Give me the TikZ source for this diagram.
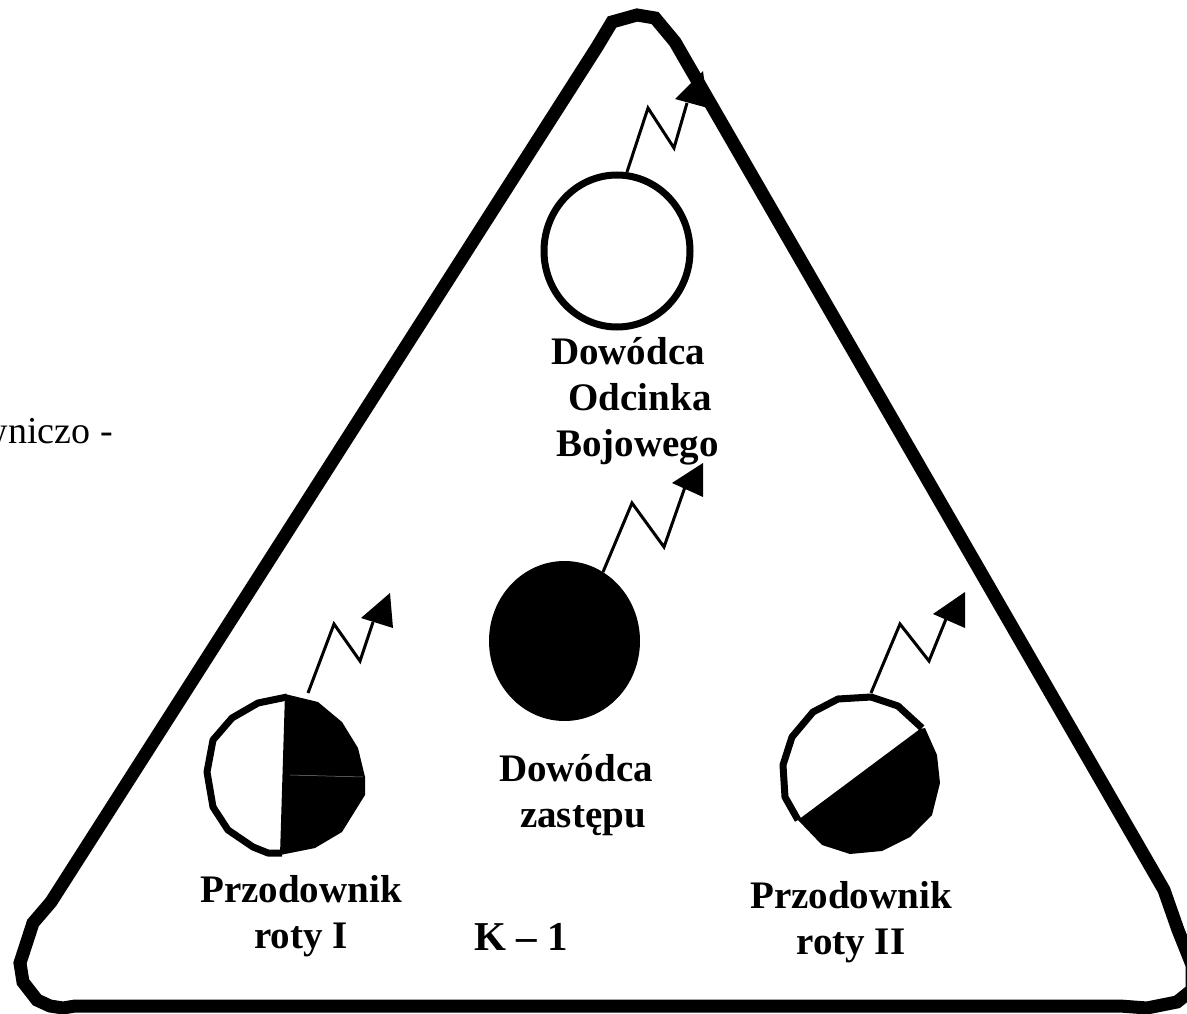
\documentclass[tikz,border=0pt]{standalone}
\usepackage{fontspec}
\usetikzlibrary{shapes.geometric}
\setmainfont{Liberation Serif}
\tikzset{
  lab/.style={font=\fontsize{39}{46}\selectfont\bfseries, align=center, inner sep=0pt, text=black},
  frame/.style={draw=black, line width=13pt, line join=miter},
  ring/.style={draw=black, line width=7pt, line join=round, fill=white},
  zig/.style={draw=black, line width=3pt, line join=miter},
  tip/.style={fill=black, draw=none},
  blk/.style={fill=black, draw=none}
}
\begin{document}
\begin{tikzpicture}[x=1pt,y=-1pt]
\useasboundingbox (0,0) rectangle (1187,1014);
\clip (0,0) rectangle (1187,1014);
% frame
\coordinate (ft) at (637,15);
\draw[frame] (ft) -- (655,18) -- (675,42) -- (1164,890) -- (1178,930) -- (1192,965) -- (1192,990) -- (1177,1002) -- (1147,1008) -- (1120,1006) -- (75,1006) -- (63,1008) -- (50,1006) -- (37,1000) -- (23,982) -- (20,963) -- (33,923) -- (51,902) -- (597,47) -- (612,22) -- cycle;
% top
\node[ellipse, draw=black, line width=7pt, fill=white, minimum width=146pt, minimum height=152pt, inner sep=0pt] (c1) at (617,251) {};
\coordinate (z1a) at (627,172); \coordinate (z1b) at (648,108); \coordinate (z1c) at (674,148); \coordinate (z1d) at (687,103);
\draw[zig] (z1a) -- (z1b) -- (z1c) -- (z1d);
\fill[tip] (675,99) -- (703,71) -- (708,108) -- cycle;
% centre
\node[ellipse, fill=black, minimum width=151pt, minimum height=160pt, inner sep=0pt] (c2) at (564.5,641) {};
\coordinate (z2a) at (603,572); \coordinate (z2b) at (632,503); \coordinate (z2c) at (664,547); \coordinate (z2d) at (685,487);
\draw[zig] (z2a) -- (z2b) -- (z2c) -- (z2d);
\fill[tip] (672,483) -- (703,463) -- (703,497) -- cycle;
% left
\draw[ring, fill=none] (287,697) -- (258,703) -- (232,718) -- (213,740) -- (207,772) -- (213,807) -- (228,830) -- (253,847) -- (268,853) -- (282,853);
\fill[blk] (285,694) -- (318,702) -- (342,722) -- (358,748) -- (365,777) -- (365,795) -- (342,832) -- (315,848) -- (280,855) -- cycle;
\draw[draw=gray, line width=0.5pt] (290,775) -- (363,777);
\coordinate (z3a) at (308,693); \coordinate (z3b) at (334,624); \coordinate (z3c) at (360,661); \coordinate (z3d) at (373,622);
\draw[zig] (z3a) -- (z3b) -- (z3c) -- (z3d);
\fill[tip] (361,618) -- (390,593) -- (393,628) -- cycle;
% right
\draw[ring, fill=none] (798,820) -- (785,797) -- (783,765) -- (792,737) -- (813,712) -- (838,699) -- (871,697) -- (898,706) -- (922,728);
\fill[blk] (798,820) -- (920,729) -- (925,728) -- (937,755) -- (940,783) -- (932,815) -- (910,837) -- (882,851) -- (850,854) -- (822,845) -- cycle;
\coordinate (z4a) at (871,693); \coordinate (z4b) at (900,624); \coordinate (z4c) at (929,661); \coordinate (z4d) at (946,619);
\draw[zig] (z4a) -- (z4b) -- (z4c) -- (z4d);
\fill[tip] (933,614) -- (965,592) -- (965,628) -- cycle;
% labels
\node[lab] (t1) at (637.5,401) {Dowódca\hspace*{19pt}\\\hspace*{5pt}Odcinka\\Bojowego};
\node[lab] (t2) at (576,795) {Dowódca\\\hspace*{14pt}zastępu};
\node[lab] (t3) at (301,916) {Przodownik\\roty I};
\node[lab] (t4) at (851,922) {Przodownik\\roty II};
\node[lab, font=\fontsize{41}{46}\selectfont\bfseries] (t5) at (521.5,937) {K -- 1};
\node[font=\fontsize{38}{42}\selectfont, anchor=base east, inner sep=0pt] (t6) at (113,443) {wniczo -};
\end{tikzpicture}
\end{document}
